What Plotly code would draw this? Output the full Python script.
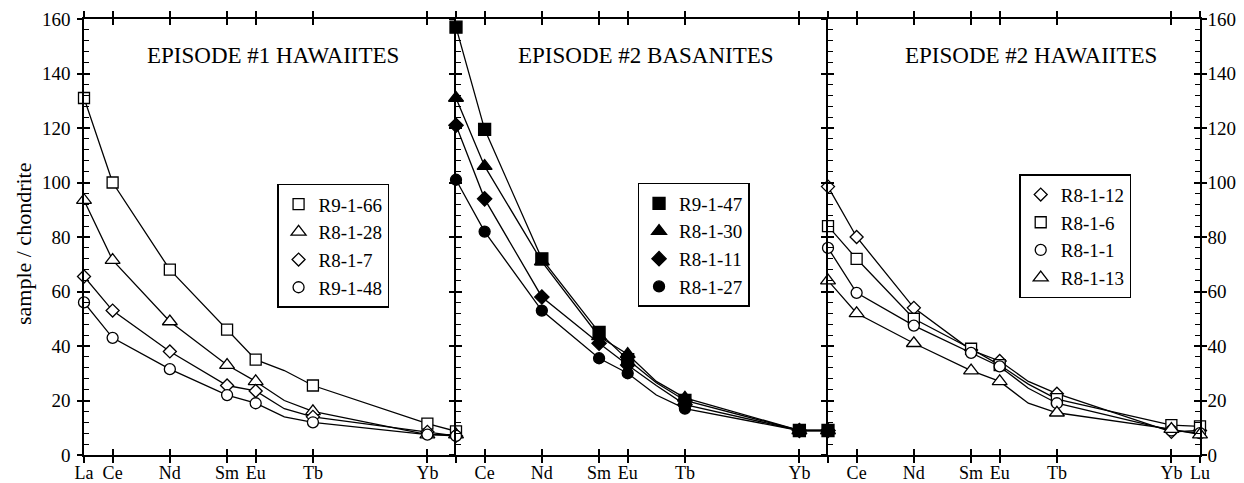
import plotly.graph_objects as go

# Rare-earth elements along the x axis (Gd is plotted on the lines only, without a symbol)
elements = ["La", "Ce", "Nd", "Sm", "Eu", "Gd", "Tb", "Yb", "Lu"]
element_pos = [0, 1, 3, 5, 6, 7, 8, 12, 13]
marked = ["La", "Ce", "Nd", "Sm", "Eu", "Tb", "Yb", "Lu"]

tick_pos = [0, 1, 3, 5, 6, 8, 12, 13]
p1_ticktext = ["La", "Ce", "Nd", "Sm", "Eu", "Tb", "Yb", ""]
p2_ticktext = ["", "Ce", "Nd", "Sm", "Eu", "Tb", "Yb", ""]
p3_ticktext = ["", "Ce", "Nd", "Sm", "Eu", "Tb", "Yb", "Lu"]
y_ticks = [0, 20, 40, 60, 80, 100, 120, 140, 160]

panel_titles = ["EPISODE #1 HAWAIITES", "EPISODE #2 BASANITES", "EPISODE #2 HAWAIITES"]

# Episode 1 hawaiites (sample / chondrite)
ep1_names = ["R9-1-66", "R8-1-28", "R8-1-7", "R9-1-48"]
ep1_r9_1_66 = [131, 100, 68, 46, 35, 31, 25.5, 11.5, 8.7]
ep1_r8_1_28 = [93.5, 71.5, 49, 33, 27, 20, 16, 7.5, 7.5]
ep1_r8_1_7 = [65.5, 53, 38, 25.5, 23.5, 17, 14, 8.5, 7]
ep1_r9_1_48 = [56, 43, 31.5, 22, 19, 14, 12, 7.5, 7]

# Episode 2 basanites
ep2b_names = ["R9-1-47", "R8-1-30", "R8-1-11", "R8-1-27"]
ep2b_r9_1_47 = [157, 119.5, 72, 45, 35, 26.5, 20, 9, 9]
ep2b_r8_1_30 = [131, 106, 71, 43.5, 37, 27, 21, 9, 9]
ep2b_r8_1_11 = [121, 94, 58, 41, 33, 25.5, 18.5, 9, 9]
ep2b_r8_1_27 = [101, 82, 53, 35.5, 30, 22, 17, 9, 9]

# Episode 2 hawaiites
ep2h_names = ["R8-1-12", "R8-1-6", "R8-1-1", "R8-1-13"]
ep2h_r8_1_12 = [98.5, 80, 54, 38.5, 34.5, 27, 22.5, 8.5, 9]
ep2h_r8_1_6 = [84, 72, 50, 39, 33, 26, 20.5, 11, 10.5]
ep2h_r8_1_1 = [76, 59.5, 47.5, 37.5, 32.5, 24.5, 19, 9, 8]
ep2h_r8_1_13 = [64, 52, 41, 31, 27, 19, 15.5, 9.5, 7.5]

FONT = "Liberation Serif"
LW = 1.3
AXW = 1.6

panels = [
    dict(names=ep1_names, series=[ep1_r9_1_66, ep1_r8_1_28, ep1_r8_1_7, ep1_r9_1_48],
         symbols=["square", "triangle-up", "diamond", "circle"],
         sizes=[11, 13, 10, 11], filled=False),
    dict(names=ep2b_names, series=[ep2b_r9_1_47, ep2b_r8_1_30, ep2b_r8_1_11, ep2b_r8_1_27],
         symbols=["square", "triangle-up", "diamond", "circle"],
         sizes=[12, 13, 11, 11], filled=True),
    dict(names=ep2h_names, series=[ep2h_r8_1_12, ep2h_r8_1_6, ep2h_r8_1_1, ep2h_r8_1_13],
         symbols=["diamond", "square", "circle", "triangle-up"],
         sizes=[10, 11, 11, 13], filled=False),
]

fig = go.Figure()

for p, panel in enumerate(panels):
    xa = "x" if p == 0 else f"x{p + 1}"
    ya = "y" if p == 0 else f"y{p + 1}"
    leg = "legend" if p == 0 else f"legend{p + 1}"
    # connecting lines (through Gd)
    for name, vals in zip(panel["names"], panel["series"]):
        fig.add_trace(go.Scatter(
            x=element_pos, y=vals, xaxis=xa, yaxis=ya, mode="lines",
            line=dict(color="black", width=LW), showlegend=False, hoverinfo="skip"))
    # symbols at the analysed elements
    for name, vals, sym, sz in zip(panel["names"], panel["series"], panel["symbols"], panel["sizes"]):
        xs = [element_pos[elements.index(e)] for e in marked]
        ys = [vals[elements.index(e)] for e in marked]
        fig.add_trace(go.Scatter(
            x=xs, y=ys, xaxis=xa, yaxis=ya, mode="markers", name=name, legend=leg,
            cliponaxis=False,
            marker=dict(symbol=sym, size=sz,
                        color="black" if panel["filled"] else "white",
                        line=dict(color="black", width=LW))))

# empty traces so the overlaid tick axes (outer half of the crossing ticks) get drawn
for xa, ya in [("x4", "y"), ("x5", "y2"), ("x6", "y3"), ("x", "y4"), ("x2", "y5"), ("x3", "y6")]:
    fig.add_trace(go.Scatter(x=[None], y=[None], xaxis=xa, yaxis=ya, mode="markers",
                             showlegend=False, hoverinfo="skip"))

axis_common = dict(showgrid=False, zeroline=False, showline=True, automargin=False,
                   linecolor="black", linewidth=AXW, tickcolor="black", tickwidth=AXW)
minor = dict(dtick=4, tick0=0, ticks="inside", ticklen=5, tickcolor="black", tickwidth=1.3)
ytickfont = dict(family=FONT, size=19, color="black")
xtickfont = dict(family=FONT, size=18, color="black")

domains = [[0, 1 / 3], [1 / 3, 2 / 3], [2 / 3, 1]]
ticktexts = [p1_ticktext, p2_ticktext, p3_ticktext]
layout = {}
for p in range(3):
    xk = "xaxis" if p == 0 else f"xaxis{p + 1}"
    yk = "yaxis" if p == 0 else f"yaxis{p + 1}"
    xid = "x" if p == 0 else f"x{p + 1}"
    yid = "y" if p == 0 else f"y{p + 1}"
    layout[xk] = dict(domain=domains[p], anchor=yid, range=[0, 13], tickvals=tick_pos,
                      ticks="inside", ticklen=6, mirror="ticks", showticklabels=False,
                      **axis_common)
    layout[f"xaxis{p + 4}"] = dict(overlaying=xid, anchor=yid, range=[0, 13], tickvals=tick_pos,
                                   ticktext=ticktexts[p], ticks="outside", ticklen=6,
                                   mirror="ticks", side="bottom", tickfont=xtickfont,
                                   ticklabelstandoff=-5, **axis_common)
    layout[yk] = dict(domain=[0, 1], anchor=xid, range=[0, 160], tickvals=y_ticks,
                      ticks="inside", ticklen=6, minor=minor, showticklabels=False,
                      mirror="ticks" if p == 2 else False, **axis_common)

layout["yaxis4"] = dict(overlaying="y", anchor="x", side="left", range=[0, 160],
                        tickvals=y_ticks, ticks="outside", ticklen=5, tickfont=ytickfont,
                        ticklabelstandoff=3, **axis_common)
layout["yaxis5"] = dict(overlaying="y2", anchor="x2", side="left", range=[0, 160],
                        tickvals=y_ticks, ticks="outside", ticklen=5, showticklabels=False,
                        **axis_common)
layout["yaxis6"] = dict(overlaying="y3", anchor="x3", side="right", range=[0, 160],
                        tickvals=y_ticks, ticks="outside", ticklen=5, mirror="ticks",
                        tickfont=ytickfont, ticklabelstandoff=-3, **axis_common)

legend_common = dict(xanchor="left", yanchor="top", bgcolor="white", bordercolor="black",
                     borderwidth=1.5, font=dict(family=FONT, size=19, color="black"),
                     itemwidth=30, tracegroupgap=0, traceorder="normal")
layout["legend"] = dict(x=0.173, y=0.622, **legend_common)
layout["legend2"] = dict(x=0.496, y=0.624, **legend_common)
layout["legend3"] = dict(x=0.838, y=0.644, **legend_common)

title_x = [0.169, 0.504, 0.849]
annotations = [dict(text=t, x=x, y=0.917, xref="paper", yref="paper", showarrow=False,
                    xanchor="center", yanchor="middle",
                    font=dict(family=FONT, size=23, color="black"))
               for t, x in zip(panel_titles, title_x)]
annotations.append(dict(text="sample / chondrite", x=-0.0547, y=0.486, xref="paper", yref="paper",
                        showarrow=False, textangle=-90, xanchor="center", yanchor="middle",
                        font=dict(family=FONT, size=22, color="black")))

fig.update_layout(
    width=1244, height=483, autosize=False,
    margin=dict(l=84, r=44, t=19, b=28, autoexpand=False),
    paper_bgcolor="white", plot_bgcolor="white",
    font=dict(family=FONT, color="black"),
    annotations=annotations,
    **layout,
)

fig.write_html("out.html")
